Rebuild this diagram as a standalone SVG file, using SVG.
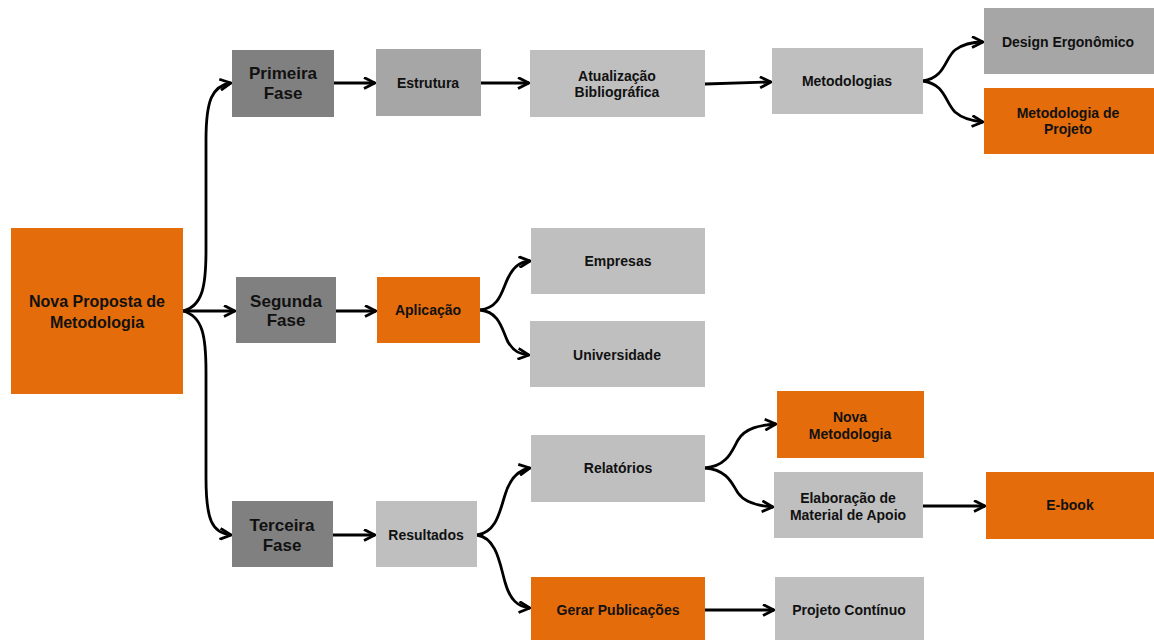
<svg xmlns="http://www.w3.org/2000/svg" width="1154" height="640" viewBox="0 0 1154 640">
<defs>
<style>
.t{font-family:"Liberation Sans",Arial,sans-serif;font-weight:bold;font-size:14px;fill:#111;text-anchor:middle;dominant-baseline:central}
.big{font-size:17px}
.nova{font-size:16px}
.dark{fill:#808080}
.mid{fill:#a6a6a6}
.light{fill:#bfbfbf}
.or{fill:#e46c0a}
.c{fill:none;stroke:#000;stroke-width:2.8}
</style>
<marker id="ah" viewBox="0 0 13 13" refX="12" refY="6.5" markerWidth="13" markerHeight="13" markerUnits="userSpaceOnUse" orient="auto">
<path d="M1,1 L12,6.5 L1,12" fill="none" stroke="#000" stroke-width="2.8"/>
</marker>
</defs>
<rect width="1154" height="640" fill="#fff"/>
<g id="connectors">
<path class="c" marker-end="url(#ah)" d="M183,311 C203,306 206,285 206,250 L206,140 C206,100 212,86 231,83"/>
<path class="c" marker-end="url(#ah)" d="M183,311 L235,311"/>
<path class="c" marker-end="url(#ah)" d="M183,311 C203,316 206,337 206,372 L206,478 C206,520 212,533 231,535"/>
<path class="c" marker-end="url(#ah)" d="M334,83 L375,83"/>
<path class="c" marker-end="url(#ah)" d="M481,83 L529,83"/>
<path class="c" marker-end="url(#ah)" d="M705,84 L771,82"/>
<path class="c" marker-end="url(#ah)" d="M923,81 C945,78 945,58 955,50 C963,44 972,42 983,42"/>
<path class="c" marker-end="url(#ah)" d="M923,81 C945,84 945,102 955,112 C963,119 972,121 983,122"/>
<path class="c" marker-end="url(#ah)" d="M336,311 L376,311"/>
<path class="c" marker-end="url(#ah)" d="M480,310 C500,308 502,290 508,278 C514,266 520,262 530,261"/>
<path class="c" marker-end="url(#ah)" d="M480,310 C500,312 502,330 508,342 C514,352 520,354 529,355"/>
<path class="c" marker-end="url(#ah)" d="M333,535 L375,535"/>
<path class="c" marker-end="url(#ah)" d="M477,535 C497,532 500,510 505,495 C510,478 518,470 530,468"/>
<path class="c" marker-end="url(#ah)" d="M477,535 C497,538 500,565 505,582 C510,600 518,607 530,608"/>
<path class="c" marker-end="url(#ah)" d="M705,468 C728,466 732,450 738,440 C745,428 760,425 776,424"/>
<path class="c" marker-end="url(#ah)" d="M705,468 C728,470 732,484 738,493 C745,503 758,506 773,507"/>
<path class="c" marker-end="url(#ah)" d="M923,506 L985,506"/>
<path class="c" marker-end="url(#ah)" d="M705,610 L774,610"/>
</g>
<g id="n-nova"><rect class="or" x="11" y="228" width="172" height="166"/><text class="t nova" x="97" y="301">Nova Proposta de</text><text class="t nova" x="97" y="322">Metodologia</text></g>
<g id="n-primeira"><rect class="dark" x="232" y="50" width="102" height="67"/><text class="t big" x="283" y="73">Primeira</text><text class="t big" x="283" y="93">Fase</text></g>
<g id="n-estrutura"><rect class="mid" x="376" y="49" width="105" height="67"/><text class="t" x="428" y="83">Estrutura</text></g>
<g id="n-atualizacao"><rect class="light" x="530" y="50" width="175" height="67"/><text class="t" x="617" y="76">Atualização</text><text class="t" x="617" y="92">Bibliográfica</text></g>
<g id="n-metodologias"><rect class="light" x="772" y="48" width="151" height="66"/><text class="t" x="847" y="81">Metodologias</text></g>
<g id="n-design"><rect class="mid" x="984" y="8" width="170" height="66"/><text class="t" x="1068" y="42">Design Ergonômico</text></g>
<g id="n-metprojeto"><rect class="or" x="984" y="88" width="170" height="66"/><text class="t" x="1068" y="113">Metodologia de</text><text class="t" x="1068" y="129">Projeto</text></g>
<g id="n-segunda"><rect class="dark" x="236" y="277" width="100" height="66"/><text class="t big" x="286" y="301">Segunda</text><text class="t big" x="286" y="320">Fase</text></g>
<g id="n-aplicacao"><rect class="or" x="377" y="277" width="103" height="66"/><text class="t" x="428" y="310">Aplicação</text></g>
<g id="n-empresas"><rect class="light" x="531" y="228" width="174" height="66"/><text class="t" x="618" y="261">Empresas</text></g>
<g id="n-universidade"><rect class="light" x="530" y="321" width="175" height="66"/><text class="t" x="617" y="355">Universidade</text></g>
<g id="n-terceira"><rect class="dark" x="232" y="501" width="101" height="66"/><text class="t big" x="282" y="525">Terceira</text><text class="t big" x="282" y="545">Fase</text></g>
<g id="n-resultados"><rect class="light" x="376" y="501" width="101" height="66"/><text class="t" x="426" y="535">Resultados</text></g>
<g id="n-relatorios"><rect class="light" x="531" y="435" width="174" height="67"/><text class="t" x="618" y="468">Relatórios</text></g>
<g id="n-novamet"><rect class="or" x="777" y="391" width="147" height="67"/><text class="t" x="850" y="417">Nova</text><text class="t" x="850" y="434">Metodologia</text></g>
<g id="n-elaboracao"><rect class="light" x="774" y="472" width="149" height="66"/><text class="t" x="848" y="498">Elaboração de</text><text class="t" x="848" y="515">Material  de Apoio</text></g>
<g id="n-ebook"><rect class="or" x="986" y="472" width="168" height="67"/><text class="t" x="1070" y="505">E-book</text></g>
<g id="n-gerar"><rect class="or" x="531" y="577" width="174" height="63"/><text class="t" x="618" y="610">Gerar Publicações</text></g>
<g id="n-projeto"><rect class="light" x="775" y="577" width="149" height="63"/><text class="t" x="849" y="610">Projeto Contínuo</text></g>
</svg>
